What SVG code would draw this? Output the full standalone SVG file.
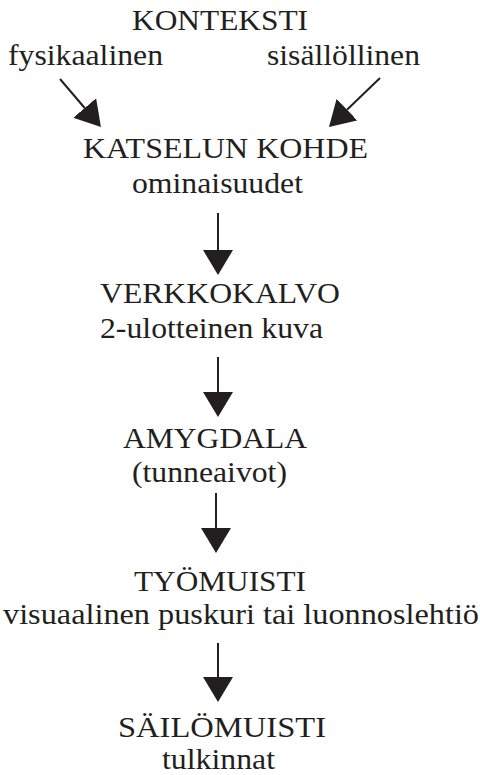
<svg xmlns="http://www.w3.org/2000/svg" width="480" height="775" viewBox="0 0 480 775">
<style>
.t{font-family:'Liberation Serif','Times New Roman',Times,serif;font-size:30px;fill:#231f20}
.c{stroke:#231f20;stroke-width:2;fill:none}
</style>
<defs>
<marker id="ah" viewBox="0 0 25 30" refX="0" refY="15" markerWidth="25" markerHeight="30" markerUnits="userSpaceOnUse" orient="auto">
<path d="M0,0 L25,15 L0,30 z" fill="#231f20"/>
</marker>
</defs>
<rect width="480" height="775" fill="#fff"/>
<g class="t" font-family="Liberation Serif, serif">
<g id="konteksti">
<text x="132" y="30" textLength="176" lengthAdjust="spacingAndGlyphs">KONTEKSTI</text>
</g>
<g id="fysikaalinen">
<text x="8" y="65" textLength="155" lengthAdjust="spacingAndGlyphs">fysikaalinen</text>
</g>
<g id="sisallollinen">
<text x="267" y="65" textLength="153" lengthAdjust="spacingAndGlyphs">sisällöllinen</text>
</g>
<g id="kohde">
<text x="83" y="158" textLength="285" lengthAdjust="spacingAndGlyphs">KATSELUN KOHDE</text>
<text x="132" y="193" textLength="171" lengthAdjust="spacingAndGlyphs">ominaisuudet</text>
</g>
<g id="verkkokalvo">
<text x="100" y="303" textLength="240" lengthAdjust="spacingAndGlyphs">VERKKOKALVO</text>
<text x="100" y="338" textLength="223" lengthAdjust="spacingAndGlyphs">2-ulotteinen kuva</text>
</g>
<g id="amygdala">
<text x="123" y="448" textLength="184" lengthAdjust="spacingAndGlyphs">AMYGDALA</text>
<text x="132" y="482" textLength="155" lengthAdjust="spacingAndGlyphs">(tunneaivot)</text>
</g>
<g id="tyomuisti">
<text x="134" y="591" textLength="172" lengthAdjust="spacingAndGlyphs">TYÖMUISTI</text>
<text x="3" y="624" textLength="476" lengthAdjust="spacingAndGlyphs">visuaalinen puskuri tai luonnoslehtiö</text>
</g>
<g id="sailomuisti">
<text x="118" y="737" textLength="208" lengthAdjust="spacingAndGlyphs">SÄILÖMUISTI</text>
<text x="162" y="769" textLength="113" lengthAdjust="spacingAndGlyphs">tulkinnat</text>
</g>
</g>
<g id="connectors">
<line class="c" x1="60" y1="79" x2="84.7" y2="108" marker-end="url(#ah)"/>
<line class="c" x1="380" y1="78" x2="347" y2="109.7" marker-end="url(#ah)"/>
<line class="c" x1="218" y1="213" x2="218" y2="250" marker-end="url(#ah)"/>
<line class="c" x1="218" y1="357" x2="218" y2="392" marker-end="url(#ah)"/>
<line class="c" x1="216" y1="493" x2="216" y2="528" marker-end="url(#ah)"/>
<line class="c" x1="218" y1="643" x2="218" y2="677" marker-end="url(#ah)"/>
</g>
</svg>
